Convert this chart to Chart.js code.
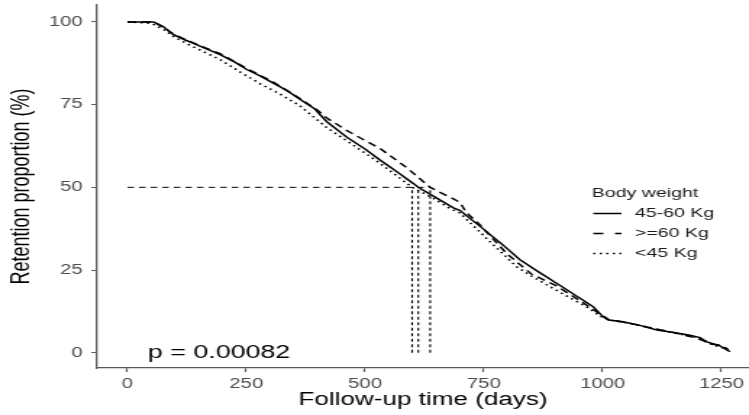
<!DOCTYPE html>
<html>
<head>
<meta charset="utf-8">
<script src="https://cdn.jsdelivr.net/npm/chart.js@4/dist/chart.umd.min.js"></script>
<style>
  body { margin: 0; background: #fff; }
  #wrap { width: 749px; height: 415px; overflow: hidden; }
  /* the reference is stretched sideways, so the chart is drawn narrow and widened */
  #c { transform: scaleX(1.4487); transform-origin: 0 0; }
</style>
</head>
<body>
<div id="wrap"><canvas id="c" width="517" height="415"></canvas></div>
<script>
// 45-60 Kg
const days45to60 = [0, 55, 75, 96, 120, 138, 165, 195, 225, 251, 280, 307, 335, 363, 395, 405, 419, 461, 500, 531, 570, 601, 612, 650, 686, 700, 742, 790, 826, 870, 903, 940, 980, 1000, 1012, 1043, 1080, 1114, 1150, 1184, 1205, 1219, 1245, 1268];
const ret45to60 = [100, 100, 98.6, 96.2, 94.6, 93.6, 91.9, 90.1, 87.9, 85.6, 83.6, 81.5, 79.3, 76.6, 73.6, 72.0, 69.9, 65.2, 61.6, 58.3, 54.4, 51.2, 50, 46.8, 43.8, 43.0, 38.2, 32.6, 28.1, 24.0, 21.0, 17.6, 13.9, 11.0, 9.9, 9.4, 8.2, 6.9, 6.1, 5.3, 4.6, 3.3, 2.2, 0.3];

// >=60 Kg
const daysOver60 = [0, 55, 75, 96, 120, 150, 195, 251, 307, 363, 400, 419, 460, 503, 531, 588, 637, 686, 700, 712, 742, 798, 850, 903, 960, 1000, 1012, 1050, 1100, 1150, 1200, 1230, 1250, 1265];
const retOver60 = [100, 100, 98.4, 96.4, 94.8, 92.9, 90.4, 85.9, 81.8, 76.8, 73.3, 71.0, 67.3, 63.9, 61.8, 55.9, 50, 46.5, 45.4, 42.6, 38.6, 30.0, 23.8, 20.2, 15.0, 11.2, 10.1, 9.1, 7.6, 6.1, 4.3, 2.6, 2.3, 0.9];

// <45 Kg
const daysUnder45 = [0, 50, 75, 100, 125, 160, 195, 240, 279, 321, 363, 419, 480, 531, 560, 588, 599, 640, 679, 700, 727, 770, 819, 850, 889, 930, 966, 1000, 1020, 1060, 1100, 1150, 1200, 1232, 1255];
const retUnder45 = [100, 99.6, 97.8, 95.3, 93.4, 91.0, 88.6, 84.6, 81.3, 78.2, 74.6, 68.1, 62.3, 57.3, 54.2, 51.2, 50, 47.0, 43.6, 42.2, 38.5, 32.6, 26.0, 23.2, 20.0, 16.7, 13.9, 10.6, 9.8, 8.8, 7.6, 6.0, 4.6, 2.4, 1.4];

const seriesLabels = ['45-60 Kg', '>=60 Kg', '<45 Kg'];
const medianDays = [612, 637, 599]; // same order as seriesLabels
const medianLevel = 50;

const xTicks = [0, 250, 500, 750, 1000, 1250];
const yTicks = [0, 25, 50, 75, 100];

const legendTitle = 'Body weight';
const pLabel = 'p = 0.00082';

const FONT = '"Liberation Sans", Arial, sans-serif';
const AXIS_GREY = '#5a5a5a';

function toPoints(xs, ys) {
    return xs.map((d, i) => ({ x: d, y: ys[i] }));
}

const curveStyles = [
    { borderDash: [], borderWidth: 1.5 },
    { borderDash: [6, 4], borderWidth: 1.5 },
    { borderDash: [1.5, 3], borderWidth: 1.6 }
];
const curveData = [
    toPoints(days45to60, ret45to60),
    toPoints(daysOver60, retOver60),
    toPoints(daysUnder45, retUnder45)
];

const datasets = [];

// median guide lines
datasets.push({
    label: 'median',
    data: [{ x: 0, y: medianLevel }, { x: Math.max(...medianDays), y: medianLevel }],
    borderColor: '#000',
    borderWidth: 1,
    borderDash: [4.5, 3.5]
});
medianDays.forEach(d => {
    datasets.push({
        label: 'median',
        data: [{ x: d, y: 0 }, { x: d, y: medianLevel }],
        borderColor: '#000',
        borderWidth: 1.1,
        borderDash: [3, 2.5]
    });
});

seriesLabels.forEach((name, i) => {
    datasets.push({
        label: name,
        inLegend: true,
        data: curveData[i],
        borderColor: '#000',
        borderWidth: curveStyles[i].borderWidth,
        borderDash: curveStyles[i].borderDash
    });
});

// legend + p value, drawn inside the panel like the reference
const legendAndNote = {
    id: 'legendAndNote',
    afterDraw(chart) {
        const ctx = chart.ctx;
        const { x, y } = chart.scales;
        ctx.save();
        ctx.fillStyle = '#000';
        ctx.textBaseline = 'middle';
        ctx.textAlign = 'left';
        ctx.font = `18.5px ${FONT}`;
        ctx.fillText(pLabel, x.getPixelForValue(43), y.getPixelForValue(0));

        ctx.font = `13.5px ${FONT}`;
        ctx.fillStyle = '#1a1a1a';
        ctx.fillText(legendTitle, 408.4, 193);
        chart.data.datasets.filter(d => d.inLegend).forEach((d, i) => {
            const cy = 213.5 + i * 20;
            ctx.strokeStyle = '#000';
            ctx.lineWidth = d.borderWidth;
            ctx.setLineDash(i === 1 ? [7, 8] : d.borderDash);
            ctx.beginPath();
            ctx.moveTo(409.5, cy);
            ctx.lineTo(429, cy);
            ctx.stroke();
            ctx.setLineDash([]);
            ctx.fillText(d.label, 438.3, cy);
        });
        ctx.restore();
    }
};

function noPadding(s) {
    s.paddingTop = 0;
    s.paddingBottom = 0;
    s.paddingLeft = 0;
    s.paddingRight = 0;
}

new Chart(document.getElementById('c'), {
    type: 'line',
    data: { datasets: datasets },
    options: {
        responsive: false,
        animation: false,
        devicePixelRatio: 1,
        layout: { padding: { top: 5, left: 0, right: 0, bottom: 0 } },
        elements: { point: { radius: 0 }, line: { tension: 0 } },
        plugins: { legend: { display: false }, tooltip: { enabled: false } },
        scales: {
            x: {
                type: 'linear',
                min: -64,
                max: 1308,
                afterBuildTicks: s => { s.ticks = xTicks.map(v => ({ value: v })); },
                afterFit: s => { s.height = 47; noPadding(s); },
                border: { color: AXIS_GREY, width: 1.3 },
                grid: { drawOnChartArea: false, drawTicks: true, tickLength: 4, color: AXIS_GREY, tickWidth: 1.2 },
                ticks: { color: '#4d4d4d', font: { family: FONT, size: 14 }, padding: 4, maxRotation: 0, callback: v => String(v) },
                title: {
                    display: true,
                    text: 'Follow-up time (days)',
                    color: '#000',
                    font: { family: FONT, size: 18 },
                    padding: { top: 0, bottom: 4 }
                }
            },
            y: {
                type: 'linear',
                min: -4.6,
                max: 105.1,
                afterBuildTicks: s => { s.ticks = yTicks.map(v => ({ value: v })); },
                afterFit: s => { s.width = 67; noPadding(s); },
                border: { color: AXIS_GREY, width: 1.3 },
                grid: { drawOnChartArea: false, drawTicks: true, tickLength: 4, color: AXIS_GREY, tickWidth: 1 },
                ticks: { color: '#4d4d4d', font: { family: FONT, size: 14 }, padding: 6, callback: v => String(v) },
                title: {
                    display: true,
                    text: 'Retention proportion (%)',
                    color: '#000',
                    font: { family: FONT, size: 18 },
                    padding: { top: 4, bottom: 0 }
                }
            }
        }
    },
    plugins: [legendAndNote]
});
</script>
</body>
</html>
